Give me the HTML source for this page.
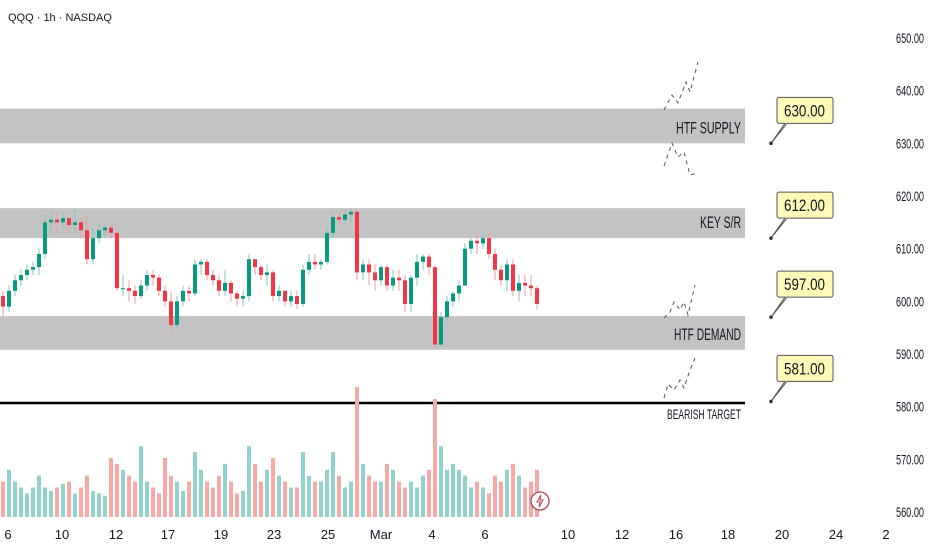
<!DOCTYPE html>
<html><head><meta charset="utf-8"><style>
html,body{margin:0;padding:0;background:#fff;width:932px;height:550px;overflow:hidden}
svg{display:block;font-family:"Liberation Sans",sans-serif}
</style></head><body>
<svg id="chart" width="932" height="550" viewBox="0 0 932 550" xmlns="http://www.w3.org/2000/svg">
<rect width="932" height="550" fill="#fff"/>
<g id="zones"></g>
<g id="vol"></g>
<g id="candles"></g>
<g id="ann"></g>
<g id="axes"></g>
<text x="8" y="21" font-size="11" fill="#131722">QQQ · 1h · NASDAQ</text>
</svg>
<script>
const closes=[599,602,604,605,606,606.5,609,615,615.5,615,615.8,614.5,615,613.5,608,612,613.5,614,613,602.5,602.5,602,601,603,605,604.5,602,600,595.5,600,602,601.5,607,607.5,605,604,602,603.5,601.5,600.5,601,608,606.5,605,605.5,601,602,600,601,599.5,606,607.5,607,607.5,613,616,615.5,616.5,617,605.5,607,605.5,604,606.5,603,604.5,604,599.5,604.5,607.5,608.5,606.5,591.8,597,600,601.5,603,610,611.5,611,612,609,606,604,607,602,603.5,603,602.5,599.5];
const firstOpen=601;
const highs=[602,603,605,606,607,607.5,610,616.5,617,617,617,616,617.5,616,616,614,615,615,615,613,605,604,603,604,606,606,605,603,602,601,603,603,608,608,608,606,605,606,604,602,602,609,608,607,607,606,603,602,602,602,607,609,609,608,614,617,617,617,617.5,617.5,608,608,607,607,607,606,606,605,605,609,609,609,607,598,601,602,604,611,612,613,613,613,610,607,608,608,605,605,605,603];
const lows=[597,598,601,603,604,605,605,608,613,613,614,613,613,612,607,607,611,612,612,602,601,600,599.5,600.5,602,603,601,599,594,595,599,600,601,605,604,603,601,601,600,599,599,600,605,604,603,600,600,599,599,598.5,599,605,606,606,607,612,614,615,615,604,604,603,602,603,602,602,602,598,598,603,606,605,591,591.5,596,599,600,603,609,609,610,608,604,603,602,601,600,601,601,598.5];
const volumes=[30,40,30,25,20,25,35,25,22,25,28,30,20,25,35,22,20,18,50,45,40,35,30,60,30,25,20,50,35,30,22,30,55,40,30,25,35,45,30,20,22,60,45,30,40,50,35,30,25,25,55,35,30,30,40,55,35,25,30,110,45,35,30,30,45,40,30,25,30,25,35,40,100,60,40,45,40,35,25,30,25,20,35,30,40,45,35,25,30,40];
const priceTicks=[650,640,630,620,610,600,590,580,570,560];
const dateLabels=["6","10","12","17","19","23","25","Mar","4","6","10","12","16","18","20","24","2"];
const dateX=[8,62,116,168,221,274,328,381,432,485,568,622,676,728,782,836,886];
const zoneLabels=["HTF SUPPLY","KEY S/R","HTF DEMAND"];
const zoneTop=[636.6,617.7,597.2];
const zoneBot=[630,612,590.8];
const targetPrice=580.7;
const calloutValues=[630,612,597,581];
const calloutAnchor=[630,612,597,581];

const NS="http://www.w3.org/2000/svg";
function y(p){return 38+(650-p)*5.267;}
function x(i){return 3+i*6;}
function vh(v){return v*1.18;}
function mk(tag,attrs,parent){const e=document.createElementNS(NS,tag);for(const k in attrs)e.setAttribute(k,attrs[k]);parent.appendChild(e);return e;}
function condensed(t,w){t.setAttribute('textLength',w);t.setAttribute('lengthAdjust','spacingAndGlyphs');}
const zones=document.getElementById('zones'),vol=document.getElementById('vol'),cg=document.getElementById('candles'),ann=document.getElementById('ann'),axes=document.getElementById('axes');
const zoneW=[65,41,67];
for(let k=0;k<zoneLabels.length;k++){
  const r=mk('rect',{x:0,y:y(zoneTop[k]),width:745,height:y(zoneBot[k])-y(zoneTop[k]),fill:'#c3c3c3'},zones);
  
  
  const t=mk('text',{x:741-zoneW[k],y:y(zoneBot[k])-10,'font-size':17,fill:'#131722'},zones);
  t.textContent=zoneLabels[k];
  condensed(t,zoneW[k]);
  
  
}
const tl=mk('line',{x1:0,x2:745,y1:y(targetPrice),y2:y(targetPrice),stroke:'#000','stroke-width':2.5},zones);


const tt=mk('text',{x:667,y:y(targetPrice)+16,'font-size':14,fill:'#131722'},zones);
tt.textContent='BEARISH TARGET';
condensed(tt,74);



for(let i=0;i<closes.length;i++){
  const o=i===0?firstOpen:closes[i-1],c=closes[i];
  const up=c>=o;
  const col=up?'#089981':'#f23645';
  const hi=Math.max(highs[i],o,c),lo=Math.min(lows[i],o,c);
  const g=mk('g',{},cg);
  
  
  mk('line',{x1:x(i),x2:x(i),y1:y(hi),y2:y(lo),stroke:up?'#7fc7bb':'#f7999f','stroke-width':1},g);
  const top=y(Math.max(o,c)),bot=y(Math.min(o,c));
  mk('rect',{x:x(i)-2,y:top,width:4,height:Math.max(1,bot-top),fill:col},g);
  const h=vh(volumes[i]);
  const b=mk('rect',{x:x(i)-2,y:517-h,width:4,height:h,fill:up?'#92d2cc':'#f7a9a7'},vol);
  
  
}

const zz=[[[664,110],[672,95],[678,103],[686,82],[690,92],[698,62]],[[664,166],[672,143],[678,157],[684,152],[690,175],[697,173]],[[664,318],[670,312],[674,302],[680,310],[684,302],[688,315],[695,285]],[[664,398],[668,384],[674,390],[680,380],[684,388],[690,370],[695,358]]];
zz.forEach(pts=>{const p=mk('polyline',{points:pts.map(q=>q.join(',')).join(' '),fill:'none',stroke:'#555','stroke-width':1,'stroke-dasharray':'4,4'},ann);

});

for(let k=0;k<calloutValues.length;k++){
  const ay=y(calloutAnchor[k]),by=ay-46;
  const g=mk('g',{},ann);
  
  
  mk('path',{d:`M779 ${by} h52 a2 2 0 0 1 2 2 v22 a2 2 0 0 1 -2 2 h-44 L771 ${ay} L785 ${by+26} h-6 a2 2 0 0 1 -2 -2 v-22 a2 2 0 0 1 2 -2 z`,fill:'#fff9b8',stroke:'#555','stroke-width':1},g);
  mk('circle',{cx:771,cy:ay,r:1.8,fill:'#333'},g);
  const t=mk('text',{x:784,y:by+19,'font-size':17,fill:'#131722'},g);
  t.textContent=calloutValues[k].toFixed(2);
  condensed(t,41);
}

priceTicks.forEach(p=>{const t=mk('text',{x:896,y:y(p)+5,'font-size':14,fill:'#131722'},axes);
t.textContent=p.toFixed(2);
condensed(t,28);

});
dateLabels.forEach((d,k)=>{const t=mk('text',{x:dateX[k],y:539,'text-anchor':'middle','font-size':13,fill:'#131722'},axes);
t.textContent=d;

});
const li=mk('g',{},axes);


mk('circle',{cx:540,cy:501,r:9,fill:'#fff',stroke:'#b2444c','stroke-width':1.3},li);
mk('path',{d:'M541 495 L537 502 L540 502 L539 507 L543 500 L540 500 Z',fill:'none',stroke:'#b2444c','stroke-width':1},li);
</script>
</body></html>
